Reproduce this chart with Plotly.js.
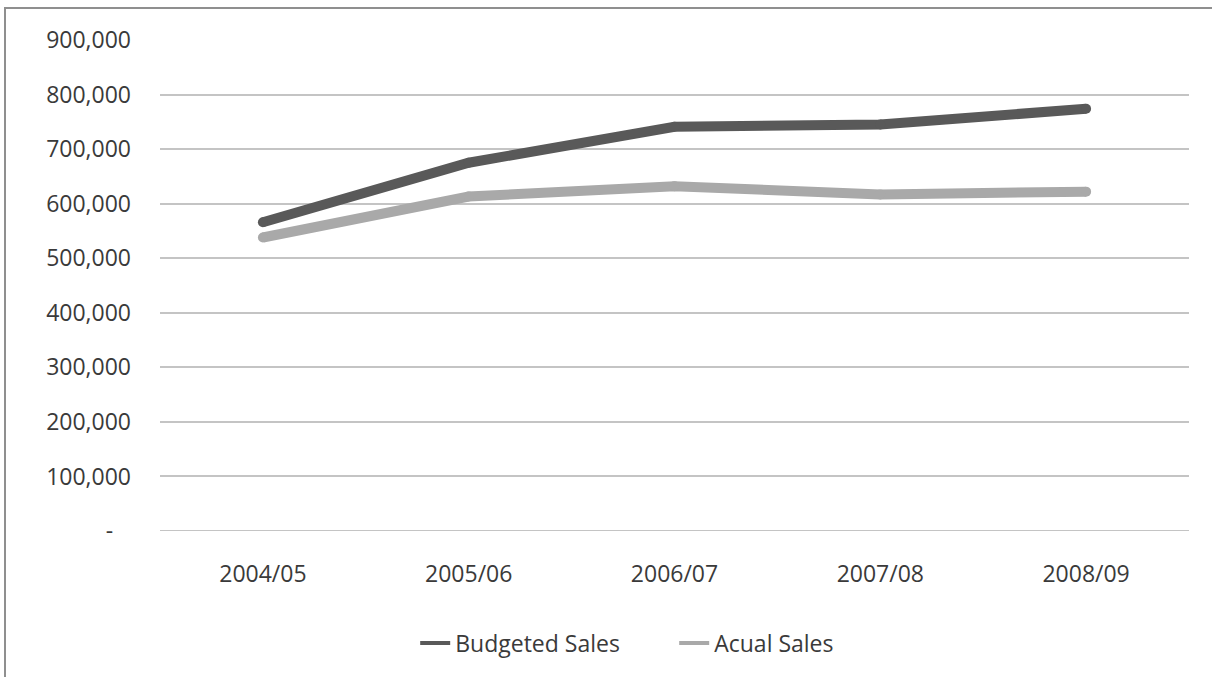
<!DOCTYPE html>
<html>
<head>
<meta charset="utf-8">
<script src="https://cdn.plot.ly/plotly-3.0.1.min.js"></script>
<style>
  html, body { margin: 0; padding: 0; background: #fff; }
  #chart { width: 1212px; height: 677px; }
  #frame { position: absolute; left: 4px; top: 7px; width: 1220px; height: 700px;
           border-left: 2px solid #8f8f8f; border-top: 2px solid #8f8f8f; pointer-events: none; }
</style>
</head>
<body>
<div id="chart"></div>
<div id="frame"></div>
<script>
const categories = ["2004/05", "2005/06", "2006/07", "2007/08", "2008/09"];
const budgetedSales = [566000, 675000, 741000, 745000, 774000];
const actualSales = [538000, 613000, 632000, 617000, 622000];
const yTickVals = [0, 100000, 200000, 300000, 400000, 500000, 600000, 700000, 800000, 900000];
const yTickText = ["-\u00a0\u00a0\u00a0", "100,000", "200,000", "300,000", "400,000", "500,000", "600,000", "700,000", "800,000", "900,000"];
const seriesNames = ["Budgeted Sales", "Acual Sales"];

const darkColor = "#595959";
const lightColor = "#a9a9a9";
const textColor = "#3a3a3a";
const fontFam = "'Open Sans', 'DejaVu Sans', sans-serif";

const traces = [
  {
    x: categories, y: budgetedSales, type: "scatter", mode: "lines+markers",
    name: seriesNames[0], showlegend: false,
    line: { color: darkColor, width: 10 },
    marker: { color: darkColor, size: 10 },
    hoverinfo: "x+y"
  },
  {
    x: categories, y: actualSales, type: "scatter", mode: "lines+markers",
    name: seriesNames[1], showlegend: false,
    line: { color: lightColor, width: 10 },
    marker: { color: lightColor, size: 10 },
    hoverinfo: "x+y"
  },
  {
    x: [null], y: [null], type: "scatter", mode: "lines",
    name: seriesNames[0], line: { color: darkColor, width: 4 }
  },
  {
    x: [null], y: [null], type: "scatter", mode: "lines",
    name: seriesNames[1], line: { color: lightColor, width: 4 }
  }
];

const layout = {
  width: 1212, height: 677,
  margin: { l: 160, r: 23, t: 40, b: 144 },
  paper_bgcolor: "rgba(0,0,0,0)",
  plot_bgcolor: "#ffffff",
  font: { family: fontFam, size: 23, color: textColor },
  showlegend: true,
  legend: {
    orientation: "h", x: 0.248, xanchor: "left", y: -0.228, yanchor: "middle",
    font: { family: fontFam, size: 23, color: textColor },
    entrywidth: 214, entrywidthmode: "pixels"
  },
  xaxis: {
    type: "category", categoryorder: "array", categoryarray: categories,
    range: [-0.5, 4.5],
    showgrid: false, zeroline: false, showline: false, ticks: "",
    ticklabelstandoff: 27,
    tickfont: { family: fontFam, size: 23, color: textColor },
    fixedrange: true
  },
  yaxis: {
    range: [0, 900000],
    tickvals: yTickVals, ticktext: yTickText,
    showgrid: true, gridcolor: "#c4c4c4", gridwidth: 2,
    zeroline: false, showline: false, ticks: "",
    ticklabelstandoff: 28,
    tickfont: { family: fontFam, size: 23, color: textColor },
    fixedrange: true
  },
  shapes: [
    { type: "line", xref: "paper", yref: "y", x0: 0, x1: 1, y0: 0, y1: 0,
      line: { color: "#c4c4c4", width: 2 }, layer: "below" }
  ]
};

Plotly.newPlot("chart", traces, layout, { displayModeBar: false, staticPlot: true });
</script>
</body>
</html>
